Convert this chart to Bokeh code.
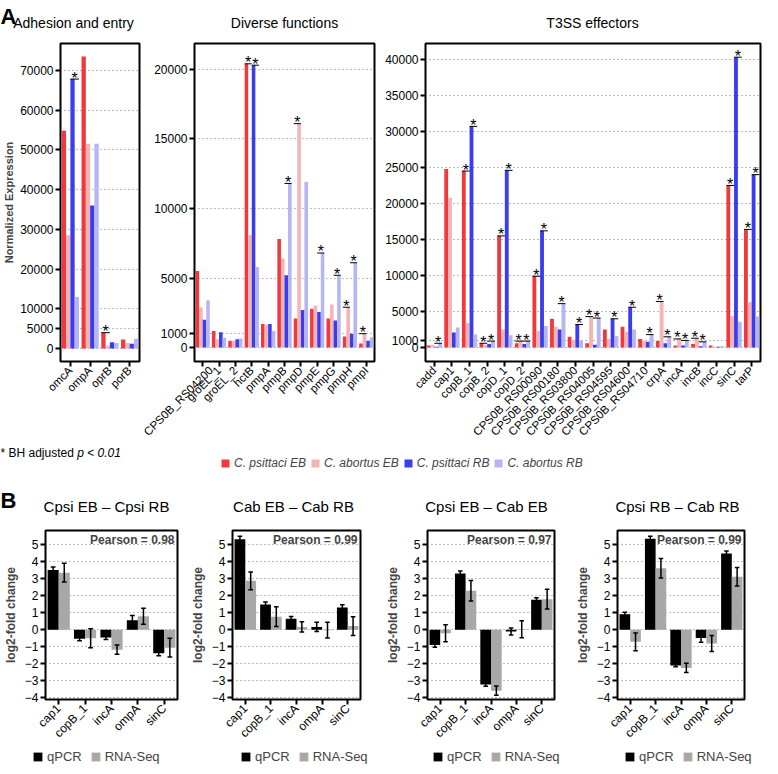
import math
from bokeh.plotting import figure
from bokeh.models import (ColumnDataSource, FactorRange, Range1d, FixedTicker, Label,
                          Legend, LegendItem)
from bokeh.transform import dodge
from bokeh.layouts import column, row
from bokeh.embed import file_html
from bokeh.resources import INLINE
from bokeh.core.properties import value

FONT = "Liberation Sans"

# ---------------- Panel A data ----------------
series_labels = ["C. psittaci EB", "C. abortus EB", "C. psittaci RB", "C. abortus RB"]
series_colors = ["#f0393c", "#f7b3b4", "#3b3bef", "#b4b4f6"]

adh_title = "Adhesion and entry"
adh_cats = ["omcA", "ompA", "oprB", "porB"]
adh_cps_eb = [54800, 73500, 4000, 2300]
adh_cab_eb = [28500, 51500, 700, 1400]
adh_cps_rb = [67800, 36000, 1600, 1200]
adh_cab_rb = [13000, 51500, 1400, 2500]
adh_sig_eb = [0, 0, 1, 0]
adh_sig_rb = [1, 0, 0, 0]
adh_yticks = [0, 5000, 10000, 20000, 30000, 40000, 50000, 60000, 70000]

div_title = "Diverse functions"
div_cats = ["CPS0B_RS04200", "groEL_1", "groEL_2", "hctB", "pmpA", "pmpB",
            "pmpD", "pmpE", "pmpG", "pmpH", "pmpI"]
div_cps_eb = [5500, 1200, 500, 20400, 1700, 7800, 2100, 2800, 2100, 800, 300]
div_cab_eb = [2900, 600, 500, 8100, 1650, 6400, 16100, 3000, 3100, 2900, 1000]
div_cps_rb = [2000, 1100, 600, 20300, 1700, 5200, 2700, 2550, 1950, 1000, 500]
div_cab_rb = [3400, 700, 650, 5800, 1200, 11800, 11900, 6800, 5200, 6100, 750]
div_sig_eb = [0, 0, 0, 1, 0, 0, 1, 0, 0, 1, 1]
div_sig_rb = [0, 0, 0, 1, 0, 1, 0, 1, 1, 1, 0]
div_yticks = [0, 1000, 5000, 10000, 15000, 20000]

t3_title = "T3SS effectors"
t3_cats = ["cadd", "cap1", "copB_1", "copB_2", "copD_1", "copD_2", "CPS0B_RS00090",
           "CPS0B_RS00180", "CPS0B_RS03800", "CPS0B_RS04005", "CPS0B_RS04595",
           "CPS0B_RS04600", "CPS0B_RS04710", "crpA", "incA", "incB", "incC", "sinC", "tarP"]
t3_cps_eb = [300, 24800, 24500, 600, 15500, 600, 9900, 4000, 1500, 600, 2500, 2900, 1200, 900, 300, 500, 300, 22500, 16400]
t3_cab_eb = [350, 20800, 3400, 400, 2500, 900, 2300, 2900, 1100, 4300, 1200, 2200, 900, 6400, 1200, 1300, 100, 4400, 6300]
t3_cps_rb = [100, 2100, 30700, 500, 24600, 500, 16200, 2500, 3200, 400, 4000, 5600, 800, 600, 300, 200, 100, 40300, 24000]
t3_cab_rb = [600, 2800, 1800, 900, 1700, 900, 3000, 6100, 1000, 4100, 1600, 2500, 1800, 1500, 1000, 800, 200, 3600, 4300]
t3_sig_eb = [0, 0, 1, 1, 1, 1, 1, 0, 0, 1, 0, 0, 0, 1, 1, 1, 0, 1, 1]
t3_sig_rb = [1, 0, 1, 1, 1, 1, 1, 1, 1, 1, 1, 1, 1, 1, 1, 1, 0, 1, 1]
t3_yticks = [0, 1000, 5000, 10000, 15000, 20000, 25000, 30000, 35000, 40000]

# ---------------- Panel B data ----------------
b_cats = ["cap1", "copB_1", "incA", "ompA", "sinC"]
b_labels = ["qPCR", "RNA-Seq"]
b_colors = ["#000000", "#a8a8a8"]
b_yticks = [-4, -3, -2, -1, 0, 1, 2, 3, 4, 5]

b1_title = "Cpsi EB \u2013 Cpsi RB"
b1_qpcr = [3.52, -0.52, -0.45, 0.56, -1.38]
b1_qpcr_err = [0.17, 0.13, 0.12, 0.28, 0.14]
b1_rna = [3.36, -0.50, -1.17, 0.80, -1.05]
b1_rna_err = [0.55, 0.56, 0.27, 0.47, 0.55]
b1_pearson = "0.98"

b2_title = "Cab EB \u2013 Cab RB"
b2_qpcr = [5.33, 1.49, 0.65, 0.17, 1.31]
b2_qpcr_err = [0.17, 0.15, 0.13, 0.27, 0.17]
b2_rna = [2.88, 0.77, 0.17, -0.02, 0.22]
b2_rna_err = [0.52, 0.58, 0.30, 0.47, 0.55]
b2_pearson = "0.99"

b3_title = "Cpsi EB \u2013 Cab EB"
b3_qpcr = [-0.90, 3.31, -3.22, -0.10, 1.76]
b3_qpcr_err = [0.13, 0.15, 0.10, 0.20, 0.12]
b3_rna = [-0.20, 2.30, -3.58, 0.03, 1.80]
b3_rna_err = [0.50, 0.60, 0.27, 0.50, 0.58]
b3_pearson = "0.97"

b4_title = "Cpsi RB \u2013 Cab RB"
b4_qpcr = [0.91, 5.35, -2.10, -0.49, 4.48]
b4_qpcr_err = [0.12, 0.15, 0.08, 0.25, 0.15]
b4_rna = [-0.71, 3.62, -2.24, -0.80, 3.12]
b4_rna_err = [0.52, 0.58, 0.27, 0.47, 0.55]
b4_pearson = "0.99"

W = 762
AHEAD_H = 35
TOP_H = 410
TOP_BT, TOP_BB = 8, 82
LEG_H = 35
BHEAD_H = 42
B_H = 226
B_BT, B_BB = 8, 40
BLEG_H = 20
B_YR = (-4.1, 5.84)
BW = 0.2175
OFFS = [-1.5 * BW, -0.5 * BW, 0.5 * BW, 1.5 * BW]


def style(p, tick_font="12px"):
    p.axis.axis_line_color = None
    p.axis.major_tick_line_color = "black"
    p.axis.major_tick_line_width = 2
    p.axis.major_tick_out = 5
    p.axis.major_tick_in = 0
    p.axis.minor_tick_line_color = None
    p.axis.major_label_text_font = FONT
    p.axis.major_label_text_font_size = tick_font
    p.axis.major_label_text_color = "black"
    p.axis.major_label_standoff = 2
    p.xgrid.grid_line_color = None
    p.ygrid.grid_line_color = "#7a7a7a"
    p.ygrid.grid_line_dash = "1 3"
    p.outline_line_color = "black"
    p.outline_line_width = 2
    p.outline_line_alpha = 1.0
    p.background_fill_color = "white"
    p.border_fill_color = "white"


def top_panel(cats, vals, sig_eb, sig_rb, yr, yticks, width, bl, br, ylabel=None):
    p = figure(x_range=FactorRange(factors=cats), y_range=Range1d(*yr), width=width, height=TOP_H,
               output_backend="svg", toolbar_location=None, title=None,
               min_border_left=bl, min_border_right=br, min_border_top=TOP_BT, min_border_bottom=TOP_BB)
    data = dict(cat=cats)
    for k, v in enumerate(vals):
        data["s%d" % k] = v
    src = ColumnDataSource(data)
    for k in range(4):
        p.vbar(x=dodge("cat", OFFS[k], range=p.x_range), top="s%d" % k, bottom=0, width=BW,
               source=src, fill_color=series_colors[k], line_color=None)
    for pair, sig in ((0, sig_eb), (1, sig_rb)):
        a, b = vals[2 * pair], vals[2 * pair + 1]
        idx = [i for i, s in enumerate(sig) if s]
        s = ColumnDataSource(dict(cat=[cats[i] for i in idx], y=[max(a[i], b[i]) for i in idx]))
        lo = OFFS[2 * pair] - BW / 2
        hi = OFFS[2 * pair + 1] + BW / 2
        mid = (lo + hi) / 2
        p.segment(x0=dodge("cat", lo, range=p.x_range), x1=dodge("cat", hi, range=p.x_range),
                  y0="y", y1="y", source=s, line_color="black", line_width=1)
        p.text(x=dodge("cat", mid, range=p.x_range), y="y", text=value("*"), source=s,
               text_align="center", text_baseline="middle", text_font=value(FONT),
               text_font_size="16px", text_color="black", y_offset=-1)
    style(p, "12px")
    p.yaxis.ticker = FixedTicker(ticks=yticks)
    p.ygrid.ticker = FixedTicker(ticks=yticks)
    p.xaxis.major_label_orientation = math.pi / 4
    p.xaxis.major_label_text_font_size = "11.5px"
    if ylabel:
        p.yaxis.axis_label = ylabel
        p.yaxis.axis_label_text_font = FONT
        p.yaxis.axis_label_text_font_size = "11px"
        p.yaxis.axis_label_text_font_style = "bold"
        p.yaxis.axis_label_standoff = 2
    return p


def b_panel(q, qe, r, re, pearson, width, bl, br):
    p = figure(x_range=FactorRange(factors=b_cats), y_range=Range1d(*B_YR), width=width, height=B_H,
               output_backend="svg", toolbar_location=None, title=None,
               min_border_left=bl, min_border_right=br, min_border_top=B_BT, min_border_bottom=B_BB)
    src = ColumnDataSource(dict(
        cat=b_cats, q=q, r=r,
        q_lo=[v - e for v, e in zip(q, qe)], q_hi=[v + e for v, e in zip(q, qe)],
        r_lo=[v - e for v, e in zip(r, re)], r_hi=[v + e for v, e in zip(r, re)]))
    for off, col, c in ((-0.21, "q", b_colors[0]), (0.21, "r", b_colors[1])):
        p.vbar(x=dodge("cat", off, range=p.x_range), top=col, bottom=0, width=0.42,
               source=src, fill_color=c, line_color=None)
    for off, col in ((-0.21, "q"), (0.21, "r")):
        p.segment(x0=dodge("cat", off, range=p.x_range), x1=dodge("cat", off, range=p.x_range),
                  y0=col + "_lo", y1=col + "_hi", source=src, line_color="black", line_width=1.5)
        for end in ("_lo", "_hi"):
            p.segment(x0=dodge("cat", off - 0.09, range=p.x_range), x1=dodge("cat", off + 0.09, range=p.x_range),
                      y0=col + end, y1=col + end, source=src, line_color="black", line_width=1.5)
    style(p, "12px")
    p.yaxis.ticker = FixedTicker(ticks=b_yticks)
    p.ygrid.ticker = FixedTicker(ticks=b_yticks)
    p.xaxis.major_label_orientation = math.pi / 4
    p.yaxis.axis_label = "log2-fold change"
    p.yaxis.axis_label_text_font = FONT
    p.yaxis.axis_label_text_font_size = "12px"
    p.yaxis.axis_label_text_font_style = "bold"
    p.yaxis.axis_label_standoff = 4
    p.add_layout(Label(x=len(b_cats), y=B_YR[1], text="Pearson = " + pearson, text_align="right",
                       text_baseline="top", x_offset=-3, y_offset=-2, text_font=FONT,
                       text_font_size="12px", text_font_style="bold"))
    return p


def strip(h):
    f = figure(width=W, height=h, x_range=Range1d(0, W), y_range=Range1d(0, h), title=None,
               output_backend="svg", toolbar_location=None, x_axis_type=None, y_axis_type=None,
               min_border=0)
    f.grid.visible = False
    f.outline_line_color = None
    f.border_fill_color = "white"
    return f


def put_text(f, x, y, t, size, style_="normal", align="left", baseline="middle"):
    f.text(x=[x], y=[y], text=[t], text_font=value(FONT), text_font_size=size,
           text_font_style=style_, text_align=align, text_baseline=baseline, text_color="black")


# ---- header of panel A (panel letter + panel titles)
ahead = strip(AHEAD_H)
put_text(ahead, 0, AHEAD_H - 3, "A", "22px", "bold", "left", "top")
for t, xc in ((adh_title, 73), (div_title, 284), (t3_title, 592)):
    put_text(ahead, xc, AHEAD_H - 22, t, "14px", "normal", "center", "middle")

fig_adh = top_panel(adh_cats, [adh_cps_eb, adh_cab_eb, adh_cps_rb, adh_cab_rb],
                    adh_sig_eb, adh_sig_rb, (-3250, 76750), adh_yticks, 141, 52, 2,
                    ylabel="Normalized Expression")
fig_div = top_panel(div_cats, [div_cps_eb, div_cab_eb, div_cps_rb, div_cab_rb],
                    div_sig_eb, div_sig_rb, (-1000, 21860), div_yticks, 236, 53, 3)
fig_t3 = top_panel(t3_cats, [t3_cps_eb, t3_cab_eb, t3_cps_rb, t3_cab_rb],
                   t3_sig_eb, t3_sig_rb, (-1930, 42200), t3_yticks, 385, 48, 2)

# ---- legend strip for panel A
lf = strip(LEG_H)
note_parts = ["* BH adjusted", "p", "<", "0.01"]
note_styles = ["normal", "italic", "normal", "italic"]
note_x = [0, 76.7, 86.7, 97.0]
for t, st, x in zip(note_parts, note_styles, note_x):
    put_text(lf, x, LEG_H - 7, t, "12px", st)
leg_r = []
for c in series_colors:
    leg_r.append(lf.vbar(x=[0], top=[0], bottom=[0], width=0, fill_color=c, line_color=None))
lleg = Legend(items=[LegendItem(label=l, renderers=[r]) for l, r in zip(series_labels, leg_r)],
              orientation="horizontal", location=(220, 10), border_line_color=None,
              background_fill_alpha=0, label_text_font=FONT, label_text_font_size="12px",
              label_text_font_style="italic", glyph_width=10, glyph_height=10, label_standoff=4,
              spacing=4, padding=0, margin=0, label_height=12)
lf.add_layout(lleg)

# ---- header of panel B
bhead = strip(BHEAD_H)
put_text(bhead, 0, BHEAD_H - 7, "B", "22px", "bold", "left", "top")
for t, xc in ((b1_title, 106), (b2_title, 293), (b3_title, 486), (b4_title, 677)):
    put_text(bhead, xc, BHEAD_H - 26, t, "15px", "normal", "center", "middle")

b1 = b_panel(b1_qpcr, b1_qpcr_err, b1_rna, b1_rna_err, b1_pearson, 187, 34, 10)
b2 = b_panel(b2_qpcr, b2_qpcr_err, b2_rna, b2_rna_err, b2_pearson, 195, 39, 22)
b3 = b_panel(b3_qpcr, b3_qpcr_err, b3_rna, b3_rna_err, b3_pearson, 190, 36, 18)
b4 = b_panel(b4_qpcr, b4_qpcr_err, b4_rna, b4_rna_err, b4_pearson, 190, 37, 18)

# ---- legend strip for panel B
bl_f = strip(BLEG_H)
bprox = [bl_f.vbar(x=[0], top=[0], bottom=[0], width=0, fill_color=c, line_color=None) for c in b_colors]
for lx in (32, 240, 432, 624):
    lg = Legend(items=[LegendItem(label=b_labels[0], renderers=[bprox[0]]),
                       LegendItem(label=b_labels[1], renderers=[bprox[1]])],
                orientation="horizontal", location=(lx, 4), border_line_color=None,
                background_fill_alpha=0, label_text_font=FONT, label_text_font_size="13px",
                glyph_width=11, glyph_height=11, label_standoff=4, spacing=8, padding=0, margin=0,
                label_height=13)
    bl_f.add_layout(lg)

layout = column(ahead, row(fig_adh, fig_div, fig_t3), lf, bhead, row(b1, b2, b3, b4), bl_f)
open("out.html", "w").write(file_html(layout, INLINE))
